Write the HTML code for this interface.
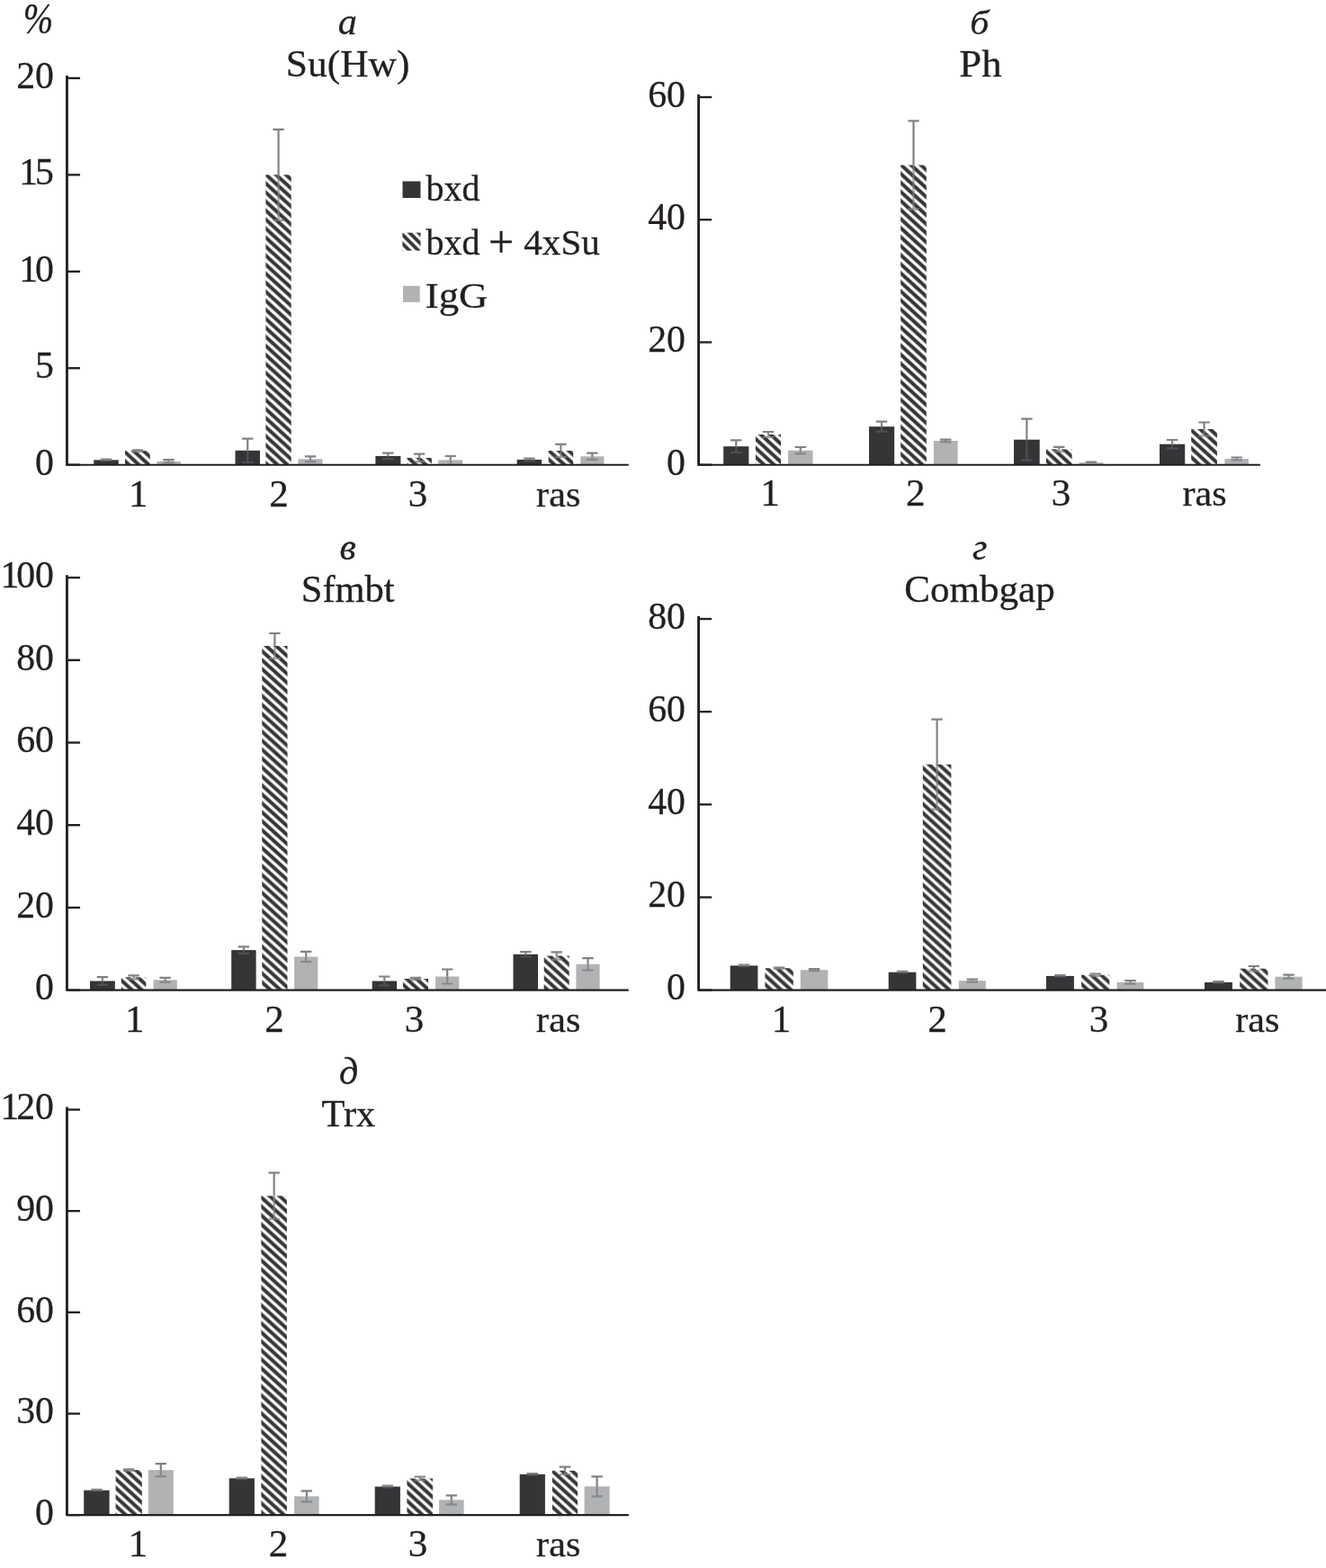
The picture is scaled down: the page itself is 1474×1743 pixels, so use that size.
<!DOCTYPE html>
<html lang="ru"><head><meta charset="utf-8"><title>ChIP bar charts</title>
<style>html,body{margin:0;padding:0;background:#fff}svg{display:block}text{font-family:"Liberation Serif","Times New Roman",Times,serif;fill:#231f20;stroke:#231f20;stroke-width:.3px}.e{stroke:#808285;stroke-width:2.2;fill:none}</style></head><body>
<svg width="1474" height="1743" viewBox="0 0 1474 1743">
<rect width="1474" height="1743" fill="#fff"/>
<defs>
<filter id="bl" x="-5%" y="-5%" width="110%" height="110%"><feGaussianBlur stdDeviation="0.55"/></filter>
<filter id="bl2" x="-5%" y="-5%" width="110%" height="110%"><feGaussianBlur stdDeviation="0.45"/></filter>
<pattern id="ha" patternUnits="userSpaceOnUse" x="295.4" y="401.7" width="11" height="10.03"><rect width="11" height="10.03" fill="#fff"/><polygon points="0,0 11,10.03 11,15.55 0,5.52" fill="#363638"/><polygon points="0,-10.03 11,0 11,5.52 0,-4.51" fill="#363638"/></pattern>
<pattern id="hb" patternUnits="userSpaceOnUse" x="1001.2" y="471.65" width="11" height="10.05"><rect width="11" height="10.05" fill="#fff"/><polygon points="0,0 11,10.05 11,15.58 0,5.53" fill="#363638"/><polygon points="0,-10.05 11,0 11,5.53 0,-4.52" fill="#363638"/></pattern>
<pattern id="hv" patternUnits="userSpaceOnUse" x="291.3" y="910.1" width="11" height="9.95"><rect width="11" height="9.95" fill="#fff"/><polygon points="0,0 11,9.95 11,15.42 0,5.47" fill="#363638"/><polygon points="0,-9.95 11,0 11,5.47 0,-4.48" fill="#363638"/></pattern>
<pattern id="hg" patternUnits="userSpaceOnUse" x="1025.5" y="960.55" width="11" height="10"><rect width="11" height="10" fill="#fff"/><polygon points="0,0 11,10 11,15.5 0,5.5" fill="#363638"/><polygon points="0,-10 11,0 11,5.5 0,-4.5" fill="#363638"/></pattern>
<pattern id="hd" patternUnits="userSpaceOnUse" x="290.4" y="1508.2" width="11" height="10"><rect width="11" height="10" fill="#fff"/><polygon points="0,0 11,10 11,15.5 0,5.5" fill="#363638"/><polygon points="0,-10 11,0 11,5.5 0,-4.5" fill="#363638"/></pattern>
<pattern id="hl" patternUnits="userSpaceOnUse" x="0" y="0.65" width="10" height="10"><rect width="10" height="10" fill="#fff"/><polygon points="0,0 10,10 10,15.5 0,5.5" fill="#363638"/><polygon points="0,-10 10,0 10,5.5 0,-4.5" fill="#363638"/></pattern>
</defs>
<text transform="translate(25.7 36.9) scale(0.82 1)" font-size="48.9" font-style="italic">%</text>
<g id="panel-a">
<g filter="url(#bl)">
<rect x="104.25" y="511.3" width="27.5" height="5.4" fill="#363638"/>
<rect x="139" y="501.1" width="27.75" height="15.6" fill="url(#ha)"/>
<rect x="174.25" y="512.8" width="26.5" height="3.9" fill="#b1b2b4"/>
<rect x="261.5" y="500.8" width="27.5" height="15.9" fill="#363638"/>
<rect x="295.4" y="194.3" width="28.3" height="322.4" fill="url(#ha)"/>
<rect x="331.5" y="510.3" width="27" height="6.4" fill="#b1b2b4"/>
<rect x="417.4" y="506.9" width="28" height="9.8" fill="#363638"/>
<rect x="452.4" y="508.9" width="27.5" height="7.8" fill="url(#ha)"/>
<rect x="487.3" y="511.3" width="27" height="5.4" fill="#b1b2b4"/>
<rect x="574.7" y="510.9" width="27.5" height="5.8" fill="#363638"/>
<rect x="609.7" y="501" width="27.5" height="15.7" fill="url(#ha)"/>
<rect x="645.4" y="507.3" width="26" height="9.4" fill="#b1b2b4"/>
</g>
<g filter="url(#bl2)">
<path class="e" d="M118 510.7V511.3M111.8 510.7H124.2"/>
<path class="e" stroke-opacity="0.35" d="M118 511.3V511.9M111.8 511.9H124.2"/>
<path class="e" d="M152.88 500.3V501.1M146.68 500.3H159.07"/>
<path class="e" stroke-opacity="0.75" d="M152.88 501.1V501.9M146.68 501.9H159.07"/>
<path class="e" d="M187.5 511.2V512.8M181.3 511.2H193.7"/>
<path class="e" stroke-opacity="0.85" d="M187.5 512.8V514.4M181.3 514.4H193.7"/>
<path class="e" d="M275.25 487.6V500.8M269.05 487.6H281.45"/>
<path class="e" stroke-opacity="0.35" d="M275.25 500.8V514M269.05 514H281.45"/>
<path class="e" d="M309.55 143.8V194.3M303.35 143.8H315.75"/>
<path class="e" stroke-opacity="0.75" d="M309.55 194.3V244.8M303.35 244.8H315.75"/>
<path class="e" d="M345 507.4V510.3M338.8 507.4H351.2"/>
<path class="e" stroke-opacity="0.85" d="M345 510.3V513.2M338.8 513.2H351.2"/>
<path class="e" d="M431.4 503.7V506.9M425.2 503.7H437.6"/>
<path class="e" stroke-opacity="0.35" d="M431.4 506.9V510.1M425.2 510.1H437.6"/>
<path class="e" d="M466.15 504.7V508.9M459.95 504.7H472.35"/>
<path class="e" stroke-opacity="0.75" d="M466.15 508.9V513.1M459.95 513.1H472.35"/>
<path class="e" d="M500.8 507V511.3M494.6 507H507"/>
<path class="e" stroke-opacity="0.85" d="M500.8 511.3V515.7"/>
<path class="e" d="M588.45 509.7V510.9M582.25 509.7H594.65"/>
<path class="e" stroke-opacity="0.35" d="M588.45 510.9V512.1M582.25 512.1H594.65"/>
<path class="e" d="M623.45 493.9V501M617.25 493.9H629.65"/>
<path class="e" stroke-opacity="0.75" d="M623.45 501V508.1M617.25 508.1H629.65"/>
<path class="e" d="M658.4 503.7V507.3M652.2 503.7H664.6"/>
<path class="e" stroke-opacity="0.85" d="M658.4 507.3V510.9M652.2 510.9H664.6"/>
</g>
<path d="M74.45 84V517.7" stroke="#231f20" stroke-width="2.85" fill="none"/>
<path d="M74.45 516.7H698.8" stroke="#231f20" stroke-width="2.05" fill="none"/>
<path d="M74.45 516.7H89.05" stroke="#231f20" stroke-width="2.35" fill="none"/>
<text transform="translate(59.6 527.5) scale(0.97 1)" font-size="43.1" text-anchor="end" letter-spacing="-0.23">0</text>
<path d="M74.45 409.25H89.05" stroke="#231f20" stroke-width="2.35" fill="none"/>
<text transform="translate(59.6 420.05) scale(0.97 1)" font-size="43.1" text-anchor="end" letter-spacing="-0.23">5</text>
<path d="M74.45 301.8H89.05" stroke="#231f20" stroke-width="2.35" fill="none"/>
<text transform="translate(59.6 312.6) scale(0.97 1)" font-size="43.1" dx="0 -3" text-anchor="end" letter-spacing="-0.23">10</text>
<path d="M74.45 194.35H89.05" stroke="#231f20" stroke-width="2.35" fill="none"/>
<text transform="translate(59.6 205.15) scale(0.97 1)" font-size="43.1" dx="0 -3" text-anchor="end" letter-spacing="-0.23">15</text>
<path d="M74.45 86.9H89.05" stroke="#231f20" stroke-width="2.35" fill="none"/>
<text transform="translate(59.6 97.7) scale(0.97 1)" font-size="43.1" text-anchor="end" letter-spacing="-0.23">20</text>
<text x="153.75" y="562.5" font-size="43.1" text-anchor="middle">1</text>
<text x="310" y="562.5" font-size="43.1" text-anchor="middle">2</text>
<text x="464.4" y="562.5" font-size="43.1" text-anchor="middle">3</text>
<text transform="translate(620.7 562.5) scale(1.055 1)" font-size="40" text-anchor="middle">ras</text>
<text x="386.3" y="38.3" font-size="42" text-anchor="middle" font-style="italic">а</text>
<text transform="translate(386.6 84.8) scale(1.035 1)" font-size="42" text-anchor="middle">Su(Hw)</text>
</g>
<g id="panel-b">
<g filter="url(#bl)">
<rect x="804.2" y="496.2" width="28.2" height="20.5" fill="#363638"/>
<rect x="839.9" y="483" width="28.2" height="33.7" fill="url(#hb)"/>
<rect x="876.1" y="500.7" width="27.4" height="16" fill="#b1b2b4"/>
<rect x="966" y="474.2" width="28.2" height="42.5" fill="#363638"/>
<rect x="1001.2" y="183.5" width="28.6" height="333.2" fill="url(#hb)"/>
<rect x="1037.9" y="490" width="26.7" height="26.7" fill="#b1b2b4"/>
<rect x="1127" y="488.7" width="28.7" height="28" fill="#363638"/>
<rect x="1162.9" y="499.4" width="28.7" height="17.3" fill="url(#hb)"/>
<rect x="1199.5" y="514.2" width="27" height="2.5" fill="#b1b2b4"/>
<rect x="1289" y="493.7" width="28.2" height="23" fill="#363638"/>
<rect x="1324.2" y="477" width="28.7" height="39.7" fill="url(#hb)"/>
<rect x="1361.4" y="510" width="26.5" height="6.7" fill="#b1b2b4"/>
</g>
<g filter="url(#bl2)">
<path class="e" d="M818.3 489.4V496.2M812.1 489.4H824.5"/>
<path class="e" stroke-opacity="0.35" d="M818.3 496.2V503M812.1 503H824.5"/>
<path class="e" d="M854 480V483M847.8 480H860.2"/>
<path class="e" stroke-opacity="0.75" d="M854 483V486M847.8 486H860.2"/>
<path class="e" d="M889.8 497V500.7M883.6 497H896"/>
<path class="e" stroke-opacity="0.85" d="M889.8 500.7V504.4M883.6 504.4H896"/>
<path class="e" d="M980.1 468.7V474.2M973.9 468.7H986.3"/>
<path class="e" stroke-opacity="0.35" d="M980.1 474.2V479.7M973.9 479.7H986.3"/>
<path class="e" d="M1015.5 134.3V183.5M1009.3 134.3H1021.7"/>
<path class="e" stroke-opacity="0.75" d="M1015.5 183.5V232.7M1009.3 232.7H1021.7"/>
<path class="e" d="M1051.25 488.7V490M1045.05 488.7H1057.45"/>
<path class="e" stroke-opacity="0.85" d="M1051.25 490V491.3M1045.05 491.3H1057.45"/>
<path class="e" d="M1141.35 465.7V488.7M1135.15 465.7H1147.55"/>
<path class="e" stroke-opacity="0.35" d="M1141.35 488.7V511.7M1135.15 511.7H1147.55"/>
<path class="e" d="M1177.25 496.9V499.4M1171.05 496.9H1183.45"/>
<path class="e" stroke-opacity="0.75" d="M1177.25 499.4V501.9M1171.05 501.9H1183.45"/>
<path class="e" d="M1213 513.7V514.2M1206.8 513.7H1219.2"/>
<path class="e" stroke-opacity="0.85" d="M1213 514.2V515.7"/>
<path class="e" d="M1303.1 489V493.7M1296.9 489H1309.3"/>
<path class="e" stroke-opacity="0.35" d="M1303.1 493.7V498.4M1296.9 498.4H1309.3"/>
<path class="e" d="M1338.55 469.5V477M1332.35 469.5H1344.75"/>
<path class="e" stroke-opacity="0.75" d="M1338.55 477V484.5M1332.35 484.5H1344.75"/>
<path class="e" d="M1374.65 508.5V510M1368.45 508.5H1380.85"/>
<path class="e" stroke-opacity="0.85" d="M1374.65 510V511.5M1368.45 511.5H1380.85"/>
</g>
<path d="M776.55 105.1V517.7" stroke="#231f20" stroke-width="2.85" fill="none"/>
<path d="M776.55 516.7H1400.9" stroke="#231f20" stroke-width="2.05" fill="none"/>
<path d="M776.55 516.7H791.15" stroke="#231f20" stroke-width="2.35" fill="none"/>
<text transform="translate(761.7 527.5) scale(0.97 1)" font-size="43.1" text-anchor="end" letter-spacing="-0.23">0</text>
<path d="M776.55 380.47H791.15" stroke="#231f20" stroke-width="2.35" fill="none"/>
<text transform="translate(761.7 391.27) scale(0.97 1)" font-size="43.1" text-anchor="end" letter-spacing="-0.23">20</text>
<path d="M776.55 244.23H791.15" stroke="#231f20" stroke-width="2.35" fill="none"/>
<text transform="translate(761.7 255.03) scale(0.97 1)" font-size="43.1" text-anchor="end" letter-spacing="-0.23">40</text>
<path d="M776.55 108H791.15" stroke="#231f20" stroke-width="2.35" fill="none"/>
<text transform="translate(761.7 118.8) scale(0.97 1)" font-size="43.1" text-anchor="end" letter-spacing="-0.23">60</text>
<text x="856.1" y="562.3" font-size="43.1" text-anchor="middle">1</text>
<text x="1017.7" y="562.3" font-size="43.1" text-anchor="middle">2</text>
<text x="1179.4" y="562.3" font-size="43.1" text-anchor="middle">3</text>
<text transform="translate(1339 562.3) scale(1.055 1)" font-size="40" text-anchor="middle">ras</text>
<text transform="translate(1088.9 38) scale(1.09 1)" font-size="38.5" text-anchor="middle" font-style="italic">б</text>
<text transform="translate(1089.9 84.8) scale(1.063 1)" font-size="42" text-anchor="middle">Ph</text>
</g>
<g id="panel-v">
<g filter="url(#bl)">
<rect x="100" y="1090.5" width="27.8" height="10.1" fill="#363638"/>
<rect x="134.8" y="1086.3" width="27.5" height="14.3" fill="url(#hv)"/>
<rect x="170.5" y="1089.3" width="26.3" height="11.3" fill="#b1b2b4"/>
<rect x="257.2" y="1056.1" width="27.4" height="44.5" fill="#363638"/>
<rect x="291.3" y="718" width="28.2" height="382.6" fill="url(#hv)"/>
<rect x="327.1" y="1063.5" width="26.2" height="37.1" fill="#b1b2b4"/>
<rect x="413.7" y="1090.5" width="27.4" height="10.1" fill="#363638"/>
<rect x="447.9" y="1088" width="28.2" height="12.6" fill="url(#hv)"/>
<rect x="484.1" y="1085.5" width="26.2" height="15.1" fill="#b1b2b4"/>
<rect x="570.5" y="1060.8" width="27.5" height="39.8" fill="#363638"/>
<rect x="604.7" y="1062.5" width="28" height="38.1" fill="url(#hv)"/>
<rect x="640.4" y="1071.8" width="26.2" height="28.8" fill="#b1b2b4"/>
</g>
<g filter="url(#bl2)">
<path class="e" d="M113.9 1086.2V1090.5M107.7 1086.2H120.1"/>
<path class="e" stroke-opacity="0.35" d="M113.9 1090.5V1094.8M107.7 1094.8H120.1"/>
<path class="e" d="M148.55 1084.3V1086.3M142.35 1084.3H154.75"/>
<path class="e" stroke-opacity="0.75" d="M148.55 1086.3V1088.3M142.35 1088.3H154.75"/>
<path class="e" d="M183.65 1086.8V1089.3M177.45 1086.8H189.85"/>
<path class="e" stroke-opacity="0.85" d="M183.65 1089.3V1091.8M177.45 1091.8H189.85"/>
<path class="e" d="M270.9 1052.4V1056.1M264.7 1052.4H277.1"/>
<path class="e" stroke-opacity="0.35" d="M270.9 1056.1V1059.8M264.7 1059.8H277.1"/>
<path class="e" d="M305.4 704V718M299.2 704H311.6"/>
<path class="e" stroke-opacity="0.75" d="M305.4 718V732M299.2 732H311.6"/>
<path class="e" d="M340.2 1057.8V1063.5M334 1057.8H346.4"/>
<path class="e" stroke-opacity="0.85" d="M340.2 1063.5V1069.2M334 1069.2H346.4"/>
<path class="e" d="M427.4 1085.5V1090.5M421.2 1085.5H433.6"/>
<path class="e" stroke-opacity="0.35" d="M427.4 1090.5V1095.5M421.2 1095.5H433.6"/>
<path class="e" d="M462 1086.8V1088M455.8 1086.8H468.2"/>
<path class="e" stroke-opacity="0.75" d="M462 1088V1089.2M455.8 1089.2H468.2"/>
<path class="e" d="M497.2 1077.5V1085.5M491 1077.5H503.4"/>
<path class="e" stroke-opacity="0.85" d="M497.2 1085.5V1093.5M491 1093.5H503.4"/>
<path class="e" d="M584.25 1058.1V1060.8M578.05 1058.1H590.45"/>
<path class="e" stroke-opacity="0.35" d="M584.25 1060.8V1063.5M578.05 1063.5H590.45"/>
<path class="e" d="M618.7 1058.3V1062.5M612.5 1058.3H624.9"/>
<path class="e" stroke-opacity="0.75" d="M618.7 1062.5V1066.7M612.5 1066.7H624.9"/>
<path class="e" d="M653.5 1065.1V1071.8M647.3 1065.1H659.7"/>
<path class="e" stroke-opacity="0.85" d="M653.5 1071.8V1078.5M647.3 1078.5H659.7"/>
</g>
<path d="M74.45 639.2V1101.6" stroke="#231f20" stroke-width="2.85" fill="none"/>
<path d="M74.45 1100.6H698.8" stroke="#231f20" stroke-width="2.05" fill="none"/>
<path d="M74.45 1100.6H89.05" stroke="#231f20" stroke-width="2.35" fill="none"/>
<text transform="translate(59.6 1111.4) scale(0.97 1)" font-size="43.1" text-anchor="end" letter-spacing="-0.23">0</text>
<path d="M74.45 1008.9H89.05" stroke="#231f20" stroke-width="2.35" fill="none"/>
<text transform="translate(59.6 1019.7) scale(0.97 1)" font-size="43.1" text-anchor="end" letter-spacing="-0.23">20</text>
<path d="M74.45 917.2H89.05" stroke="#231f20" stroke-width="2.35" fill="none"/>
<text transform="translate(59.6 928) scale(0.97 1)" font-size="43.1" text-anchor="end" letter-spacing="-0.23">40</text>
<path d="M74.45 825.5H89.05" stroke="#231f20" stroke-width="2.35" fill="none"/>
<text transform="translate(59.6 836.3) scale(0.97 1)" font-size="43.1" text-anchor="end" letter-spacing="-0.23">60</text>
<path d="M74.45 733.8H89.05" stroke="#231f20" stroke-width="2.35" fill="none"/>
<text transform="translate(59.6 744.6) scale(0.97 1)" font-size="43.1" text-anchor="end" letter-spacing="-0.23">80</text>
<path d="M74.45 642.1H89.05" stroke="#231f20" stroke-width="2.35" fill="none"/>
<text transform="translate(59.6 652.9) scale(0.97 1)" font-size="43.1" dx="0 -3 0" text-anchor="end" letter-spacing="-0.23">100</text>
<text x="149.8" y="1146.8" font-size="43.1" text-anchor="middle">1</text>
<text x="305" y="1146.8" font-size="43.1" text-anchor="middle">2</text>
<text x="460.6" y="1146.8" font-size="43.1" text-anchor="middle">3</text>
<text transform="translate(620.7 1146.8) scale(1.055 1)" font-size="40" text-anchor="middle">ras</text>
<text x="386.5" y="622.1" font-size="42" text-anchor="middle" font-style="italic">в</text>
<text transform="translate(386.7 669.3) scale(1.012 1)" font-size="42" text-anchor="middle">Sfmbt</text>
</g>
<g id="panel-g">
<g filter="url(#bl)">
<rect x="811.7" y="1073.4" width="30.7" height="27.2" fill="#363638"/>
<rect x="850.4" y="1076.2" width="31.4" height="24.4" fill="url(#hg)"/>
<rect x="889.8" y="1078.2" width="30.5" height="22.4" fill="#b1b2b4"/>
<rect x="987.7" y="1080.7" width="30.7" height="19.9" fill="#363638"/>
<rect x="1025.8" y="849.7" width="31.6" height="250.9" fill="url(#hg)"/>
<rect x="1065.8" y="1090.2" width="30" height="10.4" fill="#b1b2b4"/>
<rect x="1162.9" y="1084.9" width="31" height="15.7" fill="#363638"/>
<rect x="1202.1" y="1083.7" width="31.2" height="16.9" fill="url(#hg)"/>
<rect x="1241.6" y="1091.9" width="29.7" height="8.7" fill="#b1b2b4"/>
<rect x="1339" y="1091.9" width="30.9" height="8.7" fill="#363638"/>
<rect x="1378.2" y="1076.7" width="31.2" height="23.9" fill="url(#hg)"/>
<rect x="1417.4" y="1085.7" width="30.2" height="14.9" fill="#b1b2b4"/>
</g>
<g filter="url(#bl2)">
<path class="e" d="M827.05 1072.7V1073.4M820.85 1072.7H833.25"/>
<path class="e" stroke-opacity="0.35" d="M827.05 1073.4V1074.1M820.85 1074.1H833.25"/>
<path class="e" d="M866.1 1075.5V1076.2M859.9 1075.5H872.3"/>
<path class="e" stroke-opacity="0.75" d="M866.1 1076.2V1076.9M859.9 1076.9H872.3"/>
<path class="e" d="M905.05 1077.2V1078.2M898.85 1077.2H911.25"/>
<path class="e" stroke-opacity="0.85" d="M905.05 1078.2V1079.2M898.85 1079.2H911.25"/>
<path class="e" d="M1003.05 1079.9V1080.7M996.85 1079.9H1009.25"/>
<path class="e" stroke-opacity="0.35" d="M1003.05 1080.7V1081.5M996.85 1081.5H1009.25"/>
<path class="e" d="M1041.6 799.7V849.7M1035.4 799.7H1047.8"/>
<path class="e" stroke-opacity="0.75" d="M1041.6 849.7V899.7M1035.4 899.7H1047.8"/>
<path class="e" d="M1080.8 1088.7V1090.2M1074.6 1088.7H1087"/>
<path class="e" stroke-opacity="0.85" d="M1080.8 1090.2V1091.7M1074.6 1091.7H1087"/>
<path class="e" d="M1178.4 1084.1V1084.9M1172.2 1084.1H1184.6"/>
<path class="e" stroke-opacity="0.35" d="M1178.4 1084.9V1085.7M1172.2 1085.7H1184.6"/>
<path class="e" d="M1217.7 1082.5V1083.7M1211.5 1082.5H1223.9"/>
<path class="e" stroke-opacity="0.75" d="M1217.7 1083.7V1084.9M1211.5 1084.9H1223.9"/>
<path class="e" d="M1256.45 1090.2V1091.9M1250.25 1090.2H1262.65"/>
<path class="e" stroke-opacity="0.85" d="M1256.45 1091.9V1093.6M1250.25 1093.6H1262.65"/>
<path class="e" d="M1354.45 1091.2V1091.9M1348.25 1091.2H1360.65"/>
<path class="e" stroke-opacity="0.35" d="M1354.45 1091.9V1092.6M1348.25 1092.6H1360.65"/>
<path class="e" d="M1393.8 1074V1076.7M1387.6 1074H1400"/>
<path class="e" stroke-opacity="0.75" d="M1393.8 1076.7V1079.4M1387.6 1079.4H1400"/>
<path class="e" d="M1432.5 1083.7V1085.7M1426.3 1083.7H1438.7"/>
<path class="e" stroke-opacity="0.85" d="M1432.5 1085.7V1087.7M1426.3 1087.7H1438.7"/>
</g>
<path d="M776.55 685.1V1101.6" stroke="#231f20" stroke-width="2.85" fill="none"/>
<path d="M776.55 1100.6H1474" stroke="#231f20" stroke-width="2.05" fill="none"/>
<path d="M776.55 1100.6H791.15" stroke="#231f20" stroke-width="2.35" fill="none"/>
<text transform="translate(761.7 1111.4) scale(0.97 1)" font-size="43.1" text-anchor="end" letter-spacing="-0.23">0</text>
<path d="M776.55 997.45H791.15" stroke="#231f20" stroke-width="2.35" fill="none"/>
<text transform="translate(761.7 1008.25) scale(0.97 1)" font-size="43.1" text-anchor="end" letter-spacing="-0.23">20</text>
<path d="M776.55 894.3H791.15" stroke="#231f20" stroke-width="2.35" fill="none"/>
<text transform="translate(761.7 905.1) scale(0.97 1)" font-size="43.1" text-anchor="end" letter-spacing="-0.23">40</text>
<path d="M776.55 791.15H791.15" stroke="#231f20" stroke-width="2.35" fill="none"/>
<text transform="translate(761.7 801.95) scale(0.97 1)" font-size="43.1" text-anchor="end" letter-spacing="-0.23">60</text>
<path d="M776.55 688H791.15" stroke="#231f20" stroke-width="2.35" fill="none"/>
<text transform="translate(761.7 698.8) scale(0.97 1)" font-size="43.1" text-anchor="end" letter-spacing="-0.23">80</text>
<text x="868.6" y="1146.8" font-size="43.1" text-anchor="middle">1</text>
<text x="1042.1" y="1146.8" font-size="43.1" text-anchor="middle">2</text>
<text x="1221.4" y="1146.8" font-size="43.1" text-anchor="middle">3</text>
<text transform="translate(1397.8 1146.8) scale(1.055 1)" font-size="40" text-anchor="middle">ras</text>
<text x="1089.3" y="622.1" font-size="42" text-anchor="middle" font-style="italic">г</text>
<text transform="translate(1089 669.3) scale(1.026 1)" font-size="42" text-anchor="middle">Combgap</text>
</g>
<g id="panel-d">
<g filter="url(#bl)">
<rect x="93.2" y="1656.6" width="28.4" height="27.5" fill="#363638"/>
<rect x="128.6" y="1634.1" width="29.2" height="50" fill="url(#hd)"/>
<rect x="164.8" y="1634.1" width="28" height="50" fill="#b1b2b4"/>
<rect x="254.7" y="1643.3" width="28.2" height="40.8" fill="#363638"/>
<rect x="290.4" y="1329.3" width="28.5" height="354.8" fill="url(#hd)"/>
<rect x="327.1" y="1663.3" width="27.5" height="20.8" fill="#b1b2b4"/>
<rect x="416.7" y="1652.5" width="28.2" height="31.6" fill="#363638"/>
<rect x="452.4" y="1643.5" width="28.7" height="40.6" fill="url(#hd)"/>
<rect x="488.1" y="1667.3" width="27.5" height="16.8" fill="#b1b2b4"/>
<rect x="577.7" y="1638.8" width="28.2" height="45.3" fill="#363638"/>
<rect x="613.9" y="1634.8" width="28.2" height="49.3" fill="url(#hd)"/>
<rect x="649.6" y="1652.3" width="28" height="31.8" fill="#b1b2b4"/>
</g>
<g filter="url(#bl2)">
<path class="e" d="M107.4 1655.9V1656.6M101.2 1655.9H113.6"/>
<path class="e" stroke-opacity="0.35" d="M107.4 1656.6V1657.3M101.2 1657.3H113.6"/>
<path class="e" d="M143.2 1633.4V1634.1M137 1633.4H149.4"/>
<path class="e" stroke-opacity="0.75" d="M143.2 1634.1V1634.8M137 1634.8H149.4"/>
<path class="e" d="M178.8 1627.1V1634.1M172.6 1627.1H185"/>
<path class="e" stroke-opacity="0.85" d="M178.8 1634.1V1641.1M172.6 1641.1H185"/>
<path class="e" d="M268.8 1642.5V1643.3M262.6 1642.5H275"/>
<path class="e" stroke-opacity="0.35" d="M268.8 1643.3V1644.1M262.6 1644.1H275"/>
<path class="e" d="M304.65 1303.6V1329.3M298.45 1303.6H310.85"/>
<path class="e" stroke-opacity="0.75" d="M304.65 1329.3V1355M298.45 1355H310.85"/>
<path class="e" d="M340.85 1657.3V1663.3M334.65 1657.3H347.05"/>
<path class="e" stroke-opacity="0.85" d="M340.85 1663.3V1669.3M334.65 1669.3H347.05"/>
<path class="e" d="M430.8 1651.7V1652.5M424.6 1651.7H437"/>
<path class="e" stroke-opacity="0.35" d="M430.8 1652.5V1653.3M424.6 1653.3H437"/>
<path class="e" d="M466.75 1641.5V1643.5M460.55 1641.5H472.95"/>
<path class="e" stroke-opacity="0.75" d="M466.75 1643.5V1645.5M460.55 1645.5H472.95"/>
<path class="e" d="M501.85 1662.3V1667.3M495.65 1662.3H508.05"/>
<path class="e" stroke-opacity="0.85" d="M501.85 1667.3V1672.3M495.65 1672.3H508.05"/>
<path class="e" d="M591.8 1638V1638.8M585.6 1638H598"/>
<path class="e" stroke-opacity="0.35" d="M591.8 1638.8V1639.6M585.6 1639.6H598"/>
<path class="e" d="M628 1630.6V1634.8M621.8 1630.6H634.2"/>
<path class="e" stroke-opacity="0.75" d="M628 1634.8V1639M621.8 1639H634.2"/>
<path class="e" d="M663.6 1641.3V1652.3M657.4 1641.3H669.8"/>
<path class="e" stroke-opacity="0.85" d="M663.6 1652.3V1663.3M657.4 1663.3H669.8"/>
</g>
<path d="M74.45 1230.6V1685.1" stroke="#231f20" stroke-width="2.85" fill="none"/>
<path d="M74.45 1684.1H698.8" stroke="#231f20" stroke-width="2.05" fill="none"/>
<path d="M74.45 1684.1H89.05" stroke="#231f20" stroke-width="2.35" fill="none"/>
<text transform="translate(59.6 1694.9) scale(0.97 1)" font-size="43.1" text-anchor="end" letter-spacing="-0.23">0</text>
<path d="M74.45 1571.45H89.05" stroke="#231f20" stroke-width="2.35" fill="none"/>
<text transform="translate(59.6 1582.25) scale(0.97 1)" font-size="43.1" text-anchor="end" letter-spacing="-0.23">30</text>
<path d="M74.45 1458.8H89.05" stroke="#231f20" stroke-width="2.35" fill="none"/>
<text transform="translate(59.6 1469.6) scale(0.97 1)" font-size="43.1" text-anchor="end" letter-spacing="-0.23">60</text>
<path d="M74.45 1346.15H89.05" stroke="#231f20" stroke-width="2.35" fill="none"/>
<text transform="translate(59.6 1356.95) scale(0.97 1)" font-size="43.1" text-anchor="end" letter-spacing="-0.23">90</text>
<path d="M74.45 1233.5H89.05" stroke="#231f20" stroke-width="2.35" fill="none"/>
<text transform="translate(59.6 1244.3) scale(0.97 1)" font-size="43.1" dx="0 -3 0" text-anchor="end" letter-spacing="-0.23">120</text>
<text x="153.6" y="1729.8" font-size="43.1" text-anchor="middle">1</text>
<text x="309.6" y="1729.8" font-size="43.1" text-anchor="middle">2</text>
<text x="464.4" y="1729.8" font-size="43.1" text-anchor="middle">3</text>
<text transform="translate(620.7 1729.8) scale(1.055 1)" font-size="40" text-anchor="middle">ras</text>
<text x="387.5" y="1204.8" font-size="42" text-anchor="middle" font-style="italic">д</text>
<text transform="translate(387.4 1251.8) scale(1.01 1)" font-size="42" text-anchor="middle">Trx</text>
</g>
<g id="legend">
<g filter="url(#bl)">
<rect x="447.5" y="201.5" width="20" height="18.5" fill="#363638"/>
<rect x="447.4" y="258.6" width="20.1" height="20" fill="url(#hl)"/>
<rect x="448" y="317.8" width="18.7" height="18.1" fill="#b1b2b4"/>
</g>
<text x="473.6" y="223.2" font-size="40">bxd</text>
<text x="473.6" y="283" font-size="40">bxd</text>
<text x="543" y="285.6" font-size="50">+</text>
<text transform="translate(582.3 283) scale(1.028 1)" font-size="40">4xSu</text>
<text transform="translate(472.8 342) scale(1.12 1)" font-size="40">IgG</text>
</g>
</svg></body></html>
